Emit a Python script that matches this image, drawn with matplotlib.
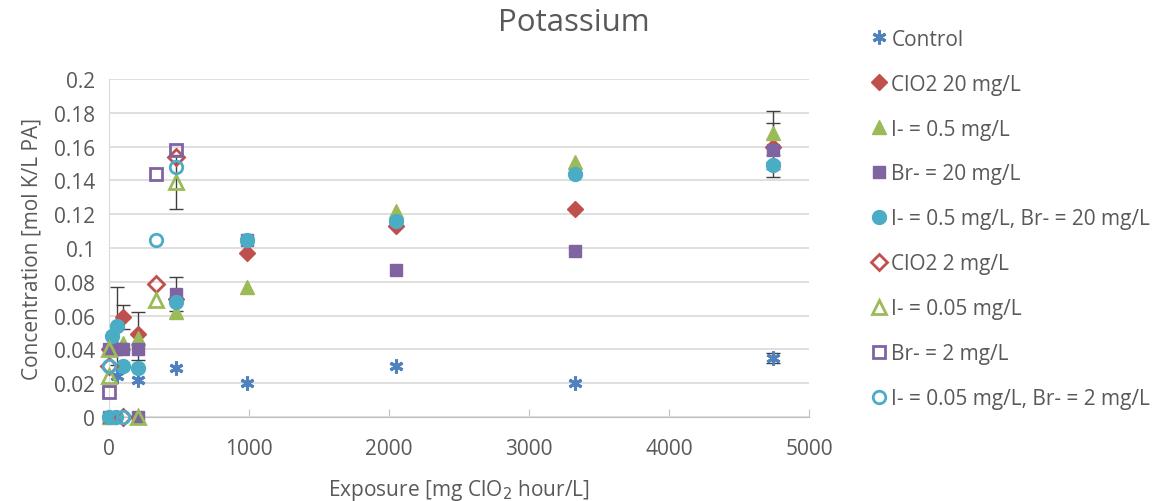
import matplotlib.pyplot as plt
import numpy as np

# Datos (exposicion mg ClO2 h/L, concentracion mol K/L PA)
control_x = [0, 55, 205, 480, 985, 2050, 3330, 4740]
control_y = [0, 0.024, 0.022, 0.029, 0.020, 0.030, 0.020, 0.035]

clo2_20_x = [0, 100, 205, 480, 985, 2050, 3330, 4740]
clo2_20_y = [0.040, 0.059, 0.049, 0.070, 0.097, 0.113, 0.123, 0.160]

i05_x = [0, 100, 205, 480, 985, 2050, 3330, 4740]
i05_y = [0, 0.044, 0.047, 0.062, 0.077, 0.122, 0.151, 0.168]

br20_x = [0, 0, 50, 100, 205, 205, 480, 985, 2050, 3330, 4740]
br20_y = [0, 0.040, 0.040, 0.040, 0.040, 0, 0.073, 0.105, 0.087, 0.098, 0.158]

i05_br20_x = [0, 20, 55, 50, 100, 205, 480, 985, 2050, 3330, 4740]
i05_br20_y = [0, 0.048, 0.054, 0, 0.030, 0.029, 0.068, 0.105, 0.116, 0.144, 0.149]

clo2_2_x = [0, 100, 336, 480]
clo2_2_y = [0.030, 0, 0.079, 0.154]

i005_x = [0, 0, 205, 336, 480]
i005_y = [0.040, 0.024, 0, 0.069, 0.139]

br2_x = [0, 336, 480]
br2_y = [0.015, 0.144, 0.158]

i005_br2_x = [0, 100, 336, 480]
i005_br2_y = [0.030, 0, 0.105, 0.148]

# Barras de error
err_x = [55, 100, 205, 480, 480, 4740, 4740, 4740, 4740]
err_y = [0.054, 0.059, 0.048, 0.073, 0.139, 0.168, 0.158, 0.035, 0.149]
err_e = [0.023, 0.007, 0.014, 0.010, 0.016, 0.013, 0.016, 0.003, 0.002]

azul = '#4F81BD'
rojo = '#C0504D'
verde = '#9BBB59'
morado = '#8064A2'
cian = '#4BACC6'
gris = '#595959'

plt.rcParams['font.family'] = ['Open Sans', 'DejaVu Sans']

fig = plt.figure(figsize=(11.61, 5.02), dpi=100)
ax = fig.add_axes([0.0939, 0.1673, 0.6029, 0.6733])

ax.errorbar(err_x, err_y, yerr=err_e, fmt='none', ecolor='#404040',
            elinewidth=1, capsize=5, capthick=1, zorder=2)

series = [
    (control_x, control_y, 'Control', dict(marker=(6, 2, 0), color=azul, markersize=10, markeredgewidth=2.2)),
    (clo2_20_x, clo2_20_y, 'ClO2 20 mg/L', dict(marker='D', color=rojo, markersize=8.5)),
    (i05_x, i05_y, 'I- = 0.5 mg/L', dict(marker='^', color=verde, markersize=10)),
    (br20_x, br20_y, 'Br- = 20 mg/L', dict(marker='s', color=morado, markersize=9)),
    (i05_br20_x, i05_br20_y, 'I- = 0.5 mg/L, Br- = 20 mg/L', dict(marker='o', color=cian, markersize=10)),
    (clo2_2_x, clo2_2_y, 'ClO2 2 mg/L', dict(marker='D', color=rojo, markerfacecolor='none', markersize=8, markeredgewidth=2)),
    (i005_x, i005_y, 'I- = 0.05 mg/L', dict(marker='^', color=verde, markerfacecolor='none', markersize=9.5, markeredgewidth=2)),
    (br2_x, br2_y, 'Br- = 2 mg/L', dict(marker='s', color=morado, markerfacecolor='none', markersize=8.5, markeredgewidth=2)),
    (i005_br2_x, i005_br2_y, 'I- = 0.05 mg/L, Br- = 2 mg/L', dict(marker='o', color=cian, markerfacecolor='none', markersize=9, markeredgewidth=2)),
]

for x, y, etiqueta, estilo in series:
    ax.plot(x, y, linestyle='none', label=etiqueta, zorder=3, clip_on=False, **estilo)

ax.set_xlim(0, 5000)
ax.set_ylim(0, 0.2)
ax.set_xticks(np.arange(0, 5001, 1000))
ax.set_yticks(np.arange(0, 0.201, 0.02))
ax.set_yticklabels(['0', '0.02', '0.04', '0.06', '0.08', '0.1', '0.12', '0.14', '0.16', '0.18', '0.2'])
ax.yaxis.grid(True, color='#D9D9D9', linewidth=1.2)
ax.set_axisbelow(True)
for lado in ['top', 'right']:
    ax.spines[lado].set_visible(False)
ax.spines['left'].set_color('#D9D9D9')
ax.spines['bottom'].set_color('#BFBFBF')
ax.tick_params(axis='x', direction='in', length=6, color='#BFBFBF', labelcolor=gris, labelsize=15, pad=15)
ax.tick_params(axis='y', length=0, labelcolor=gris, labelsize=15, pad=10)

ax.set_xlabel('Exposure [mg ClO$_2$ hour/L]', color=gris, fontsize=15, labelpad=13)
ax.set_ylabel('Concentration [mol K/L PA]', color=gris, fontsize=15, labelpad=8)
fig.text(0.494, 0.954, 'Potassium', color=gris, fontsize=22.5, ha='center', va='center')

ax.legend(loc='upper left', bbox_to_anchor=(0.749, 0.941), bbox_transform=fig.transFigure,
          frameon=False, fontsize=15, labelcolor=gris, handletextpad=0.15,
          handlelength=0.9, labelspacing=1.15, borderaxespad=0, borderpad=0)

plt.savefig('out.png', dpi=100)
